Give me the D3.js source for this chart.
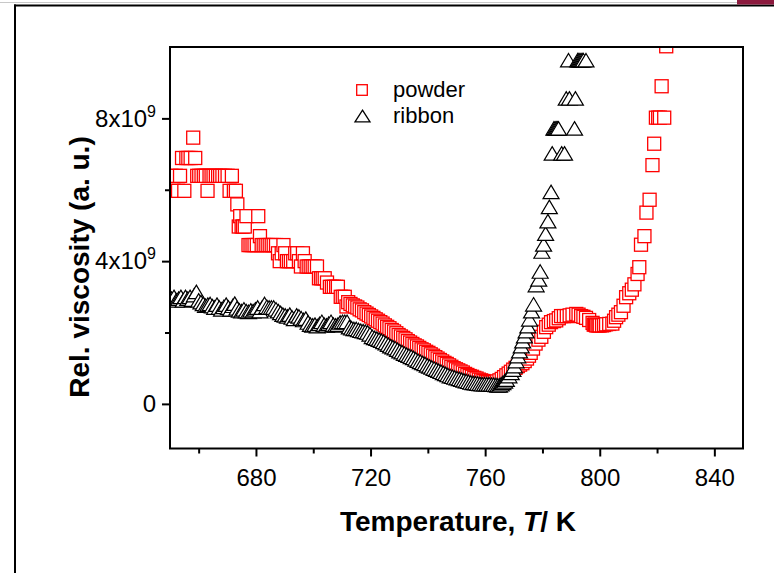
<!DOCTYPE html>
<html><head><meta charset="utf-8">
<script src="https://cdn.jsdelivr.net/npm/d3@7"></script>
<style>
html,body{margin:0;padding:0;background:#fff;}
svg{display:block;font-family:Arial,"Liberation Sans",sans-serif;}
</style></head>
<body><svg id="c" width="774" height="573"></svg>
<script>
// ---- data ----
const powderT = [650.5,651.2,652.0,652.8,653.5,654.2,655.0,655.7,656.4,657.2,658.1,658.8,659.5,660.2,661.0,661.8,662.5,663.1,663.8,664.5,665.2,666.0,666.8,667.5,668.3,669.2,670.1,670.8,671.6,672.3,673.0,673.5,674.0,674.5,675.0,675.5,676.1,676.7,677.4,678.1,678.8,679.5,680.3,680.8,681.4,682.0,682.7,683.4,684.1,684.8,685.5,686.2,687.0,687.7,688.3,689.0,689.6,690.2,690.8,691.5,692.2,693.0,693.7,694.4,695.0,695.7,696.4,697.0,697.7,698.4,699.1,699.8,700.5,701.3,702.0,702.7,703.3,704.0,704.8,705.8,706.5,707.2,708.0,708.6,709.6,710.3,711.0,711.6,712.2,713.0,713.8,714.6,715.4,716.2,717.0,717.8,718.6,719.4,720.2,721.0,721.8,722.6,723.4,724.2,725.0,725.8,726.6,727.4,728.2,729.0,729.8,730.6,731.4,732.2,733.0,733.8,734.6,735.4,736.2,737.0,737.8,738.6,739.4,740.2,741.0,741.8,742.6,743.4,744.2,745.0,745.8,746.6,747.4,748.2,749.0,749.8,750.6,751.4,752.2,753.0,753.8,754.6,755.4,756.2,757.0,757.8,758.6,759.4,760.2,761.0,761.8,762.6,763.4,764.2,765.0,765.8,766.6,767.4,768.2,769.0,769.8,770.6,771.4,772.2,773.0,773.8,774.6,775.3,775.9,776.7,777.6,778.6,779.6,780.5,781.3,782.2,783.0,784.0,784.8,785.7,786.5,787.5,788.5,789.5,790.5,791.8,792.6,793.5,794.3,795.2,796.3,797.5,797.9,798.3,798.7,799.2,799.6,800.0,800.8,801.5,802.2,803.3,804.4,805.0,805.7,806.5,807.4,808.3,809.2,810.3,811.2,812.1,813.2,813.8,814.4,815.6,816.3,817.4,818.4,819.0,819.6,820.4,821.0,821.6,822.5,823.2];
const powderV = [6.39,5.97,6.39,5.97,6.39,6.89,5.97,6.89,6.89,6.89,7.46,6.89,6.39,6.39,6.39,6.39,6.39,5.97,6.39,6.39,6.39,6.39,6.39,6.39,6.39,6.39,6.39,5.97,6.39,5.97,5.97,5.59,4.97,5.26,4.97,4.97,4.97,5.26,4.45,4.45,4.45,4.45,4.45,5.26,4.70,4.45,4.45,4.45,4.45,4.45,4.45,4.45,4.45,4.22,4.00,4.22,4.45,4.22,4.00,4.00,4.00,4.00,4.22,4.22,4.00,3.85,4.22,4.00,3.85,3.85,3.85,3.85,3.85,3.85,3.52,3.52,3.52,3.52,3.40,3.28,3.28,3.28,3.28,3.28,3.00,3.00,3.00,2.73,2.85,2.80,2.76,2.73,2.70,2.65,2.62,2.57,2.53,2.49,2.45,2.41,2.37,2.33,2.29,2.25,2.20,2.16,2.12,2.07,2.03,1.98,1.93,1.89,1.85,1.81,1.76,1.72,1.68,1.64,1.61,1.57,1.53,1.50,1.46,1.43,1.39,1.35,1.31,1.27,1.23,1.19,1.15,1.12,1.08,1.04,1.00,0.97,0.94,0.91,0.88,0.84,0.81,0.78,0.76,0.73,0.71,0.68,0.66,0.64,0.62,0.61,0.60,0.60,0.61,0.63,0.66,0.70,0.75,0.80,0.85,0.90,0.96,1.01,1.06,1.10,1.14,1.20,1.27,1.35,1.43,1.55,1.69,1.80,1.88,2.02,2.15,2.22,2.29,2.32,2.34,2.40,2.46,2.46,2.46,2.48,2.50,2.52,2.50,2.46,2.44,2.41,2.35,2.27,2.22,2.22,2.20,2.20,2.20,2.20,2.20,2.21,2.23,2.24,2.25,2.33,2.43,2.50,2.57,2.75,2.99,3.10,3.20,3.35,3.64,3.83,4.46,4.70,5.36,5.72,6.69,7.29,8.02,8.02,8.02,8.90,8.02,10.02];

const ribbonT = [650.5,651.4,652.2,653.0,653.8,654.6,655.4,656.2,657.0,657.8,658.5,659.2,660.0,660.8,661.6,662.4,663.2,664.0,664.8,665.6,666.4,667.2,668.0,668.8,669.6,670.4,671.2,672.0,672.6,673.4,674.2,675.0,675.8,676.6,677.4,678.2,679.0,679.8,680.6,681.4,682.2,683.0,683.8,684.6,685.4,686.2,687.0,687.8,688.6,689.4,690.2,691.0,691.8,692.6,693.4,694.2,695.0,695.8,696.6,697.4,698.2,699.0,699.8,700.6,701.4,702.2,703.0,703.8,704.6,705.4,706.2,707.0,707.8,708.6,709.4,710.2,711.0,711.8,712.6,713.4,714.2,715.0,715.8,716.6,717.4,718.2,719.0,719.8,720.6,721.4,722.2,723.0,723.8,724.6,725.4,726.2,727.0,727.8,728.6,729.4,730.2,731.0,731.8,732.6,733.4,734.2,735.0,735.8,736.6,737.4,738.2,739.0,739.8,740.6,741.4,742.2,743.0,743.8,744.6,745.4,746.2,747.0,747.8,748.6,749.4,750.2,751.0,751.8,752.6,753.4,754.2,755.0,755.8,756.6,757.4,758.2,759.0,759.8,760.6,761.4,762.2,763.0,763.8,764.4,765.0,765.6,766.2,766.8,767.4,768.3,769.1,769.7,770.2,770.8,771.4,772.0,772.6,773.1,773.7,774.3,774.9,775.5,776.2,776.9,777.8,778.7,779.2,779.8,780.4,781.1,781.9,782.4,783.0,783.4,784.0,784.4,784.8,785.2,785.6,786.7,787.7,788.3,789.1,789.4,791.2,791.5,792.3,792.7,793.1,793.5,793.9,794.3,795.2];
const ribbonV = [2.95,3.00,2.90,2.95,3.00,2.90,3.00,2.95,3.00,2.92,3.05,3.14,2.90,2.85,2.80,2.75,2.78,2.80,2.74,2.70,2.78,2.70,2.65,2.72,2.78,2.70,2.65,2.75,2.81,2.68,2.62,2.60,2.65,2.60,2.58,2.62,2.60,2.65,2.70,2.60,2.70,2.80,2.72,2.70,2.70,2.70,2.65,2.60,2.55,2.50,2.48,2.45,2.50,2.42,2.38,2.48,2.45,2.40,2.35,2.39,2.28,2.22,2.20,2.22,2.18,2.24,2.30,2.22,2.20,2.25,2.30,2.22,2.20,2.22,2.28,2.30,2.30,2.30,2.15,2.12,2.10,2.10,2.07,2.05,2.04,2.02,2.00,1.95,1.88,1.85,1.83,1.80,1.77,1.74,1.70,1.66,1.62,1.59,1.56,1.52,1.48,1.45,1.41,1.38,1.35,1.32,1.29,1.25,1.21,1.18,1.15,1.12,1.08,1.05,1.02,0.99,0.96,0.93,0.90,0.87,0.84,0.81,0.78,0.76,0.74,0.72,0.70,0.68,0.66,0.64,0.62,0.60,0.59,0.58,0.57,0.56,0.55,0.55,0.55,0.55,0.54,0.54,0.53,0.52,0.52,0.55,0.59,0.63,0.68,0.78,0.87,0.96,1.06,1.20,1.34,1.48,1.62,1.76,1.90,2.04,2.18,2.37,2.60,2.79,3.33,3.49,3.71,4.27,4.47,4.77,5.12,5.52,5.94,7.02,7.72,7.72,7.72,7.72,7.72,7.02,7.02,8.56,9.63,8.56,7.72,8.56,9.63,9.63,9.63,9.63,9.63,9.63,9.63];

const xMajorTicks = [680, 720, 760, 800, 840];
const xMinorTicks = [660, 700, 740, 780, 820];
const yMajorTicks = [0, 4, 8];      // in units of 10^9
const yMinorTicks = [2, 6];
const yExponent = 9;
const seriesNames = ["powder", "ribbon"];
const xTitle = ["Temperature, ", "T", "/ K"];
const yTitle = "Rel. viscosity (a. u.)";

// ---- layout ----
const svg = d3.select("#c");
const L = 170, R = 743, T = 47, B = 448.5;
const x = d3.scaleLinear().domain([650, 850]).range([L, R]);
const y = d3.scaleLinear().domain([-1.25, 10]).range([B, T]);

// outer frame decoration
svg.append("line").attr("x1",0).attr("x2",774).attr("y1",2.5).attr("y2",2.5).attr("stroke","#c8c8c8").attr("stroke-width",1);
svg.append("line").attr("x1",14).attr("x2",774).attr("y1",5.5).attr("y2",5.5).attr("stroke","#000").attr("stroke-width",2);
svg.append("line").attr("x1",15).attr("x2",15).attr("y1",4.5).attr("y2",573).attr("stroke","#000").attr("stroke-width",2);
svg.append("rect").attr("x",737).attr("y",0).attr("width",37).attr("height",4.5).attr("fill","#8c1a3e");

// clip
svg.append("clipPath").attr("id","clip").append("rect").attr("x",L).attr("y",T).attr("width",R-L).attr("height",B-T);

const sq = 13, triW = 16, triH = 13.5;
const triPath = `M0,${-triH/2}L${triW/2},${triH/2}L${-triW/2},${triH/2}Z`;

const gData = svg.append("g").attr("clip-path","url(#clip)");
const powder = powderT.map((t,i)=>({t, v: powderV[i]}));
const ribbon = ribbonT.map((t,i)=>({t, v: ribbonV[i]}));

gData.append("g").selectAll("rect").data(powder).join("rect")
  .attr("x", d => x(d.t) - sq/2).attr("y", d => y(d.v) - sq/2)
  .attr("width", sq).attr("height", sq)
  .attr("fill","#fff").attr("stroke","#ff0000").attr("stroke-width",1.3);

gData.append("g").selectAll("path").data(ribbon).join("path")
  .attr("d", triPath)
  .attr("transform", d => `translate(${x(d.t)},${y(d.v)})`)
  .attr("fill","#fff").attr("stroke","#000").attr("stroke-width",1.2);

// frame
svg.append("rect").attr("x",L).attr("y",T).attr("width",R-L).attr("height",B-T)
  .attr("fill","none").attr("stroke","#000").attr("stroke-width",2);

// x axis
const xAxis = svg.append("g").attr("transform",`translate(0,${B})`)
  .call(d3.axisBottom(x).tickValues(xMajorTicks).tickSize(8).tickSizeOuter(0).tickPadding(12).tickFormat(d3.format("d")));
xAxis.select(".domain").remove();
xAxis.selectAll(".tick line").attr("stroke-width",2);
xAxis.selectAll("text").attr("font-size",24).attr("fill","#000").attr("font-family",'Arial,"Liberation Sans",sans-serif');
const xMinor = svg.append("g").attr("transform",`translate(0,${B})`)
  .call(d3.axisBottom(x).tickValues(xMinorTicks).tickSize(5).tickFormat(""));
xMinor.select(".domain").remove();
xMinor.selectAll(".tick line").attr("stroke-width",2);

// y axis
const yAxis = svg.append("g").attr("transform",`translate(${L},0)`)
  .call(d3.axisLeft(y).tickValues(yMajorTicks).tickSize(8).tickSizeOuter(0).tickPadding(6));
yAxis.select(".domain").remove();
yAxis.selectAll(".tick line").attr("stroke-width",2);
yAxis.selectAll(".tick text").each(function(d){
  const t = d3.select(this).text("").attr("font-size",24).attr("fill","#000")
    .attr("font-family",'Arial,"Liberation Sans",sans-serif');
  if (d === 0) { t.text("0"); }
  else {
    t.append("tspan").text(d + "x10");
    t.append("tspan").text(String(yExponent)).attr("font-size",16).attr("dy",-10);
  }
});
const yMinor = svg.append("g").attr("transform",`translate(${L},0)`)
  .call(d3.axisLeft(y).tickValues(yMinorTicks).tickSize(5).tickFormat(""));
yMinor.select(".domain").remove();
yMinor.selectAll(".tick line").attr("stroke-width",2);

// titles
const xt = svg.append("text").attr("x",458).attr("y",531).attr("text-anchor","middle")
  .attr("font-size",28).attr("font-weight","bold").attr("fill","#000");
xt.append("tspan").text(xTitle[0]);
xt.append("tspan").text(xTitle[1]).attr("font-style","italic");
xt.append("tspan").text(xTitle[2]);

svg.append("text").attr("transform","translate(89,267) rotate(-90)").attr("text-anchor","middle")
  .attr("font-size",28).attr("font-weight","bold").attr("fill","#000").text(yTitle);

// legend
const lg = svg.append("g");
lg.append("rect").attr("x",362-5.3).attr("y",90-5.3).attr("width",10.6).attr("height",10.6)
  .attr("fill","#fff").attr("stroke","#ff0000").attr("stroke-width",1.3);
lg.append("path").attr("d","M0,-5.8L7.5,5.8L-7.5,5.8Z").attr("transform","translate(362.5,116)")
  .attr("fill","#fff").attr("stroke","#000").attr("stroke-width",1.3);
lg.append("text").attr("x",393).attr("y",97).attr("font-size",22).attr("fill","#000").text(seriesNames[0]);
lg.append("text").attr("x",393).attr("y",123).attr("font-size",22).attr("fill","#000").text(seriesNames[1]);
</script></body></html>
